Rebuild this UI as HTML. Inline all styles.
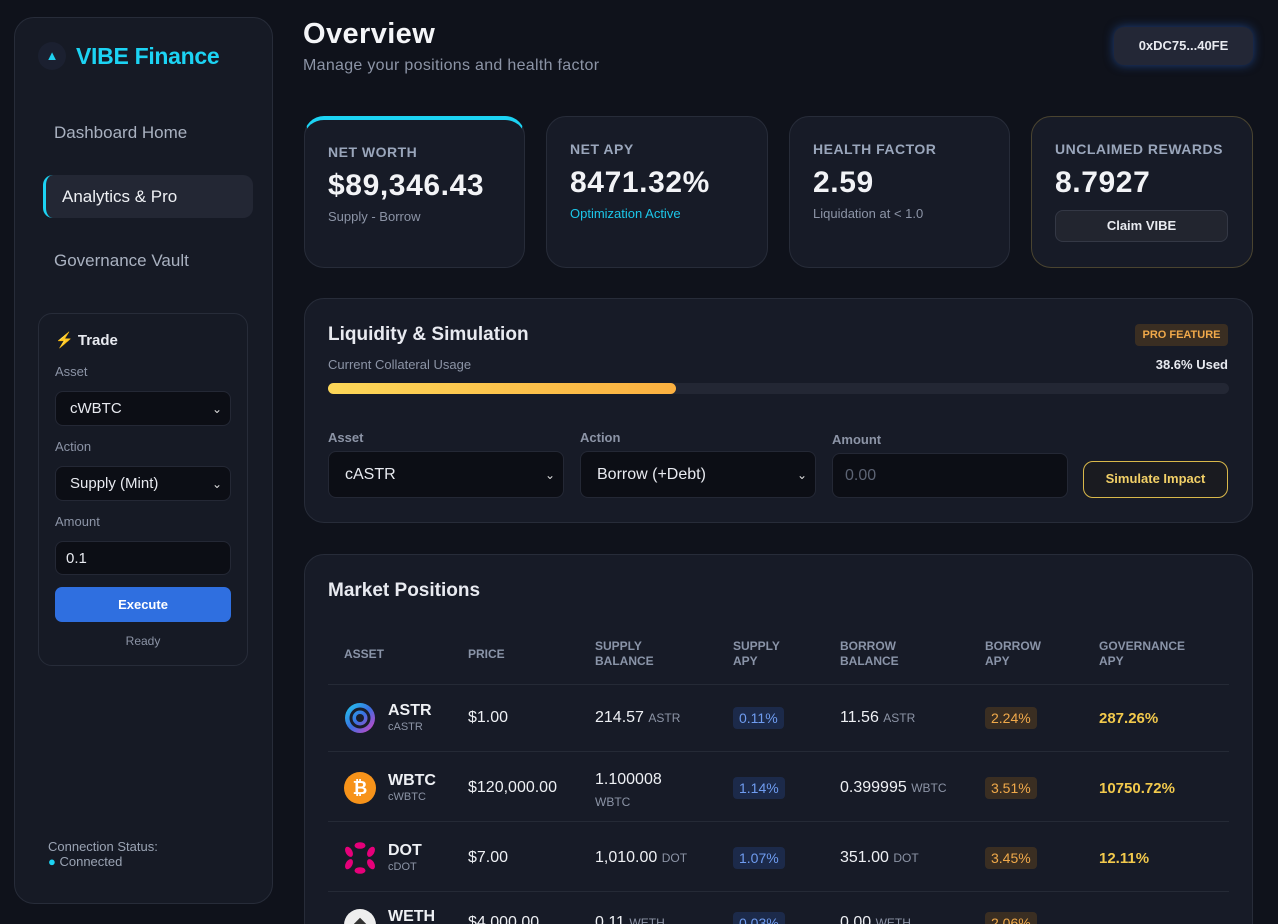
<!DOCTYPE html>
<html><head><meta charset="utf-8"><style>
*{box-sizing:border-box;margin:0;padding:0}
html,body{width:1278px;height:924px;overflow:hidden}
body{background:#0f121b;font-family:"Liberation Sans",sans-serif;color:#e8eaf0;position:relative}
.abs{position:absolute}
.card{position:absolute;background:#171b27;border:1px solid #272c39;border-radius:20px}
.lbl{position:absolute;font-size:14px;font-weight:bold;color:#9aa6bb;letter-spacing:.5px}
.big{position:absolute;font-size:30px;font-weight:bold;color:#f2f3f6;letter-spacing:.6px}
.sub{position:absolute;font-size:13px;color:#8c94a6}
.field{position:absolute;background:#0c0e15;border:1px solid #242835;border-radius:8px;color:#e8eaf0;font-size:16px;padding-left:16px;display:flex;align-items:center}
.chev{position:absolute;right:8px;top:50%;transform:translateY(-50%);font-size:12px;color:#ddd}
.th{position:absolute;font-size:12px;font-weight:bold;color:#8a94a8;line-height:15px}
.td{position:absolute;font-size:16px;color:#eef0f4}
.unit{font-size:12px;color:#8c94a6}
.pill{position:absolute;padding:3px 6px;border-radius:4px;font-size:14px}
.sp{background:#1c2a4a;color:#6f9cf0}
.bp{background:#3a2e22;color:#f0a94a}
.gv{position:absolute;font-size:15px;font-weight:bold;color:#f2c94c}
.row-line{position:absolute;left:328px;width:901px;height:1px;background:#252a36}
</style></head><body>
<div class="card" style="left:14px;top:17px;width:259px;height:887px;background:#161a25">
</div>
<div class="abs" style="left:38px;top:42px;width:28px;height:28px;border-radius:50%;background:#1b2030;color:#1fd1f0;font-size:13px;text-align:center;line-height:28px">▲</div>
<div class="abs" style="left:76px;top:43px;font-size:23px;font-weight:bold;color:#1cd3f3;letter-spacing:-.3px">VIBE Finance</div>
<div class="abs" style="left:54px;top:123px;font-size:17px;color:#a9b1c0">Dashboard Home</div>
<div class="abs" style="left:43px;top:175px;width:210px;height:43px;background:#232734;border-radius:10px;border-left:3px solid #1cd3f3;font-size:17px;color:#eef0f4;padding:12px 0 0 16px">Analytics &amp; Pro</div>
<div class="abs" style="left:54px;top:251px;font-size:17px;color:#a9b1c0">Governance Vault</div>

<div class="card" style="left:38px;top:313px;width:210px;height:353px;border-radius:14px;background:#161a25"></div>
<div class="abs" style="left:55px;top:331px;font-size:15px;font-weight:bold"><span style="color:#f5b82e">⚡</span> Trade</div>
<div class="abs" style="left:55px;top:364px;font-size:13px;color:#8c94a6">Asset</div>
<div class="field" style="left:55px;top:391px;width:176px;height:35px;font-size:15px;padding-left:14px">cWBTC<span class="chev">⌄</span></div>
<div class="abs" style="left:55px;top:439px;font-size:13px;color:#8c94a6">Action</div>
<div class="field" style="left:55px;top:466px;width:176px;height:35px;font-size:15px;padding-left:14px">Supply (Mint)<span class="chev">⌄</span></div>
<div class="abs" style="left:55px;top:514px;font-size:13px;color:#8c94a6">Amount</div>
<div class="field" style="left:55px;top:541px;width:176px;height:34px;font-size:15px;padding-left:10px">0.1</div>
<div class="abs" style="left:55px;top:587px;width:176px;height:35px;background:#2f6fe0;border-radius:7px;text-align:center;line-height:35px;font-size:13px;font-weight:bold;color:#fff">Execute</div>
<div class="abs" style="left:55px;top:634px;width:176px;text-align:center;font-size:12px;color:#8c94a6">Ready</div>
<div class="abs" style="left:48px;top:839px;font-size:13px;color:#9aa3b3;line-height:15px">Connection Status:<br><span style="color:#1cd3f3">●</span> Connected</div>

<div class="abs" style="left:303px;top:18px;font-size:29px;font-weight:bold;color:#f4f5f8;letter-spacing:.4px">Overview</div>
<div class="abs" style="left:303px;top:57px;font-size:16px;color:#8c94a6;letter-spacing:.3px">Manage your positions and health factor</div>
<div class="abs" style="left:1114px;top:27px;width:139px;height:38px;background:#232736;border-radius:10px;box-shadow:0 0 10px rgba(47,111,224,.5);text-align:center;line-height:38px;font-size:13px;font-weight:bold">0xDC75...40FE</div>

<div class="card" style="left:304px;top:116px;width:221px;height:152px;border-top:4px solid #1cd3f3"></div>
<div class="lbl" style="left:328px;top:144px">NET WORTH</div>
<div class="big" style="left:328px;top:169px">$89,346.43</div>
<div class="sub" style="left:328px;top:209px">Supply - Borrow</div>

<div class="card" style="left:546px;top:116px;width:222px;height:152px"></div>
<div class="lbl" style="left:570px;top:141px">NET APY</div>
<div class="big" style="left:570px;top:166px">8471.32%</div>
<div class="sub" style="left:570px;top:206px;color:#1cc6e8">Optimization Active</div>

<div class="card" style="left:789px;top:116px;width:221px;height:152px"></div>
<div class="lbl" style="left:813px;top:141px">HEALTH FACTOR</div>
<div class="big" style="left:813px;top:166px">2.59</div>
<div class="sub" style="left:813px;top:206px">Liquidation at &lt; 1.0</div>

<div class="card" style="left:1031px;top:116px;width:222px;height:152px;border-color:#4a4430"></div>
<div class="lbl" style="left:1055px;top:141px">UNCLAIMED REWARDS</div>
<div class="big" style="left:1055px;top:166px">8.7927</div>
<div class="abs" style="left:1055px;top:210px;width:173px;height:32px;background:#22252f;border:1px solid #343845;border-radius:8px;text-align:center;line-height:30px;font-size:13px;font-weight:bold">Claim VIBE</div>

<div class="card" style="left:304px;top:298px;width:949px;height:225px"></div>
<div class="abs" style="left:328px;top:324px;font-size:19px;font-weight:bold">Liquidity &amp; Simulation</div>
<div class="abs" style="left:1135px;top:324px;width:93px;height:22px;background:#3a2e22;border-radius:4px;text-align:center;line-height:22px;font-size:11px;font-weight:bold;color:#f0a94a">PRO FEATURE</div>
<div class="abs" style="left:328px;top:357px;font-size:13px;color:#8c94a6">Current Collateral Usage</div>
<div class="abs" style="left:1100px;top:357px;width:128px;text-align:right;font-size:13px;font-weight:bold">38.6% Used</div>
<div class="abs" style="left:328px;top:383px;width:901px;height:11px;background:#232734;border-radius:6px"></div>
<div class="abs" style="left:328px;top:383px;width:348px;height:11px;background:linear-gradient(90deg,#fcd758,#fbb040);border-radius:6px"></div>
<div class="abs" style="left:328px;top:430px;font-size:13px;font-weight:bold;color:#8c94a6">Asset</div>
<div class="field" style="left:328px;top:451px;width:236px;height:47px">cASTR<span class="chev">⌄</span></div>
<div class="abs" style="left:580px;top:430px;font-size:13px;font-weight:bold;color:#8c94a6">Action</div>
<div class="field" style="left:580px;top:451px;width:236px;height:47px">Borrow (+Debt)<span class="chev">⌄</span></div>
<div class="abs" style="left:832px;top:432px;font-size:13px;font-weight:bold;color:#8c94a6">Amount</div>
<div class="field" style="left:832px;top:453px;width:236px;height:45px;color:#5d6474;padding-left:12px">0.00</div>
<div class="abs" style="left:1083px;top:461px;width:145px;height:37px;border:1.5px solid #d9b84a;border-radius:10px;text-align:center;line-height:34px;font-size:13px;font-weight:bold;color:#f2d067;background:#1a1b20">Simulate Impact</div>

<div class="card" style="left:304px;top:554px;width:949px;height:400px"></div>
<div class="abs" style="left:328px;top:580px;font-size:19px;font-weight:bold">Market Positions</div>
<div class="th" style="left:344px;top:647px">ASSET</div>
<div class="th" style="left:468px;top:647px">PRICE</div>
<div class="th" style="left:595px;top:639px">SUPPLY<br>BALANCE</div>
<div class="th" style="left:733px;top:639px">SUPPLY<br>APY</div>
<div class="th" style="left:840px;top:639px">BORROW<br>BALANCE</div>
<div class="th" style="left:985px;top:639px">BORROW<br>APY</div>
<div class="th" style="left:1099px;top:639px">GOVERNANCE<br>APY</div>
<div class="row-line" style="top:684px"></div>
<div class="row-line" style="top:751px"></div>
<div class="row-line" style="top:821px"></div>
<div class="row-line" style="top:891px"></div>

<svg class="abs" style="left:344px;top:702px" width="32" height="32" viewBox="0 0 32 32"><defs><linearGradient id="ag" x1="0" y1="0" x2="1" y2="1"><stop offset="0" stop-color="#1fd1f0"/><stop offset=".5" stop-color="#3a6fe0"/><stop offset="1" stop-color="#e040c0"/></linearGradient></defs><circle cx="16" cy="16" r="15" fill="url(#ag)"/><circle cx="16" cy="16" r="9" fill="none" stroke="#1a1d2a" stroke-width="3"/><circle cx="16" cy="16" r="4" fill="#1a1d2a"/></svg>
<div class="td" style="left:388px;top:702px;font-weight:bold">ASTR</div>
<div class="abs" style="left:388px;top:721px;font-size:11px;color:#8c94a6">cASTR</div>
<div class="td" style="left:468px;top:709px">$1.00</div>
<div class="td" style="left:595px;top:709px">214.57 <span class="unit">ASTR</span></div>
<div class="pill sp" style="left:733px;top:707px">0.11%</div>
<div class="td" style="left:840px;top:709px">11.56 <span class="unit">ASTR</span></div>
<div class="pill bp" style="left:985px;top:707px">2.24%</div>
<div class="gv" style="left:1099px;top:710px">287.26%</div>

<div class="abs" style="left:344px;top:772px;width:32px;height:32px;border-radius:50%;background:#f7931a;color:#fff;font-weight:bold;font-size:18px;text-align:center;line-height:32px">₿</div>
<div class="td" style="left:388px;top:772px;font-weight:bold">WBTC</div>
<div class="abs" style="left:388px;top:791px;font-size:11px;color:#8c94a6">cWBTC</div>
<div class="td" style="left:468px;top:779px">$120,000.00</div>
<div class="td" style="left:595px;top:769px;line-height:22px">1.100008<br><span class="unit">WBTC</span></div>
<div class="pill sp" style="left:733px;top:777px">1.14%</div>
<div class="td" style="left:840px;top:779px">0.399995 <span class="unit">WBTC</span></div>
<div class="pill bp" style="left:985px;top:777px">3.51%</div>
<div class="gv" style="left:1099px;top:780px">10750.72%</div>

<svg class="abs" style="left:344px;top:842px" width="32" height="32" viewBox="0 0 32 32"><g fill="#e6007a"><ellipse cx="16" cy="3.5" rx="5.5" ry="3.3"/><ellipse cx="16" cy="28.5" rx="5.5" ry="3.3"/><ellipse cx="5" cy="9.8" rx="5.5" ry="3.3" transform="rotate(60 5 9.8)"/><ellipse cx="27" cy="9.8" rx="5.5" ry="3.3" transform="rotate(-60 27 9.8)"/><ellipse cx="5" cy="22.2" rx="5.5" ry="3.3" transform="rotate(-60 5 22.2)"/><ellipse cx="27" cy="22.2" rx="5.5" ry="3.3" transform="rotate(60 27 22.2)"/></g></svg>
<div class="td" style="left:388px;top:842px;font-weight:bold">DOT</div>
<div class="abs" style="left:388px;top:861px;font-size:11px;color:#8c94a6">cDOT</div>
<div class="td" style="left:468px;top:849px">$7.00</div>
<div class="td" style="left:595px;top:849px">1,010.00 <span class="unit">DOT</span></div>
<div class="pill sp" style="left:733px;top:847px">1.07%</div>
<div class="td" style="left:840px;top:849px">351.00 <span class="unit">DOT</span></div>
<div class="pill bp" style="left:985px;top:847px">3.45%</div>
<div class="gv" style="left:1099px;top:850px">12.11%</div>

<div class="abs" style="left:344px;top:909px;width:32px;height:32px;border-radius:50%;background:#eee;color:#333;text-align:center;line-height:30px;font-size:16px">◆</div>
<div class="td" style="left:388px;top:908px;font-weight:bold">WETH</div>
<div class="td" style="left:468px;top:914px">$4,000.00</div>
<div class="td" style="left:595px;top:914px">0.11 <span class="unit">WETH</span></div>
<div class="pill sp" style="left:733px;top:912px">0.03%</div>
<div class="td" style="left:840px;top:914px">0.00 <span class="unit">WETH</span></div>
<div class="pill bp" style="left:985px;top:912px">2.06%</div>
</body></html>
